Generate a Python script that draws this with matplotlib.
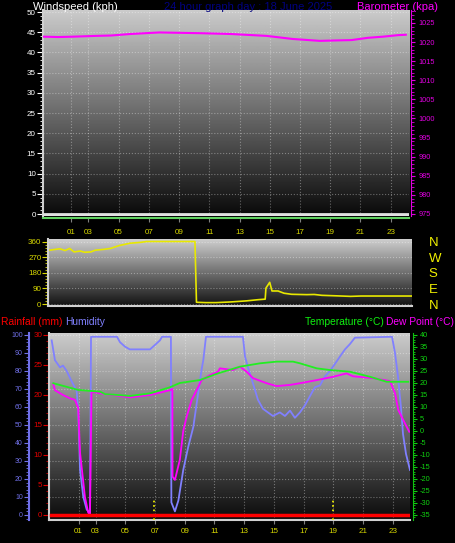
import numpy as np
import matplotlib
matplotlib.use("Agg")
import matplotlib.pyplot as plt
from matplotlib.ticker import MultipleLocator, FixedLocator

plt.rcParams["font.family"] = ["Liberation Sans", "DejaVu Sans"]
plt.rcParams["axes.unicode_minus"] = False

# ---- data (hours of the day) ----
tick_hours = [1.85, 3, 5, 7, 9, 11, 13, 15, 17, 19, 21, 23]
tick_labels = ["01", "03", "05", "07", "09", "11", "13", "15", "17", "19", "21", "23"]

wind_hours = [0.0, 24.2]
wind_speed = [0, 0]

baro_hours = [0.03, 1.0, 2.0, 3.5, 4.5, 5.8, 7.7, 9.1, 10.5, 12.4, 14.8, 16.5,
              18.3, 19.3, 20.4, 21.5, 22.5, 23.5, 24.0]
baro_kpa = [1021.4, 1021.3, 1021.4, 1021.6, 1021.7, 1022.1, 1022.5, 1022.4, 1022.3,
            1022.1, 1021.6, 1020.8, 1020.3, 1020.4, 1020.5, 1021.1, 1021.4, 1021.8, 1021.9]

dir_hours = [0.0, 0.3, 0.66, 1.0, 1.3, 1.6, 2.0, 2.3, 2.7, 3.0, 3.6, 4.0, 4.6, 5.3,
             6.0, 6.4, 9.6, 9.7, 10.3, 11.0, 12.0, 13.0, 13.8, 14.25, 14.3, 14.55,
             14.7, 15.1, 15.5, 16.0, 17.0, 17.5, 18.0, 19.0, 19.9, 20.6, 24.0]
dir_deg = [310, 314, 318, 308, 320, 300, 305, 298, 300, 310, 315, 320, 337, 350,
           355, 360, 360, 10, 8, 8, 12, 18, 25, 28, 92, 125,
           75, 75, 62, 56, 54, 55, 50, 47, 44, 46, 46]

hum_hours = [0.04, 0.26, 0.6, 0.8, 1.05, 1.4, 1.72, 1.83, 1.95, 2.17, 2.4, 2.62, 2.69,
             4.44, 4.64, 4.98, 5.3, 6.66, 7.0, 7.33, 7.47, 8.07, 8.1, 8.34, 8.57, 8.9,
             9.24, 9.58, 9.91, 10.14, 10.25, 10.43, 12.92, 13.06, 13.26, 13.6, 13.93,
             14.27, 14.6, 14.94, 15.41, 15.75, 16.09, 16.42, 16.76, 17.1, 17.43, 17.77,
             18.11, 18.44, 18.78, 19.12, 19.45, 19.79, 20.13, 20.46, 22.96, 23.16,
             23.36, 23.56, 23.7, 23.9, 24.17]
hum_pct = [97, 86, 82, 83, 80, 74, 69, 58, 25, 10, 3, 1, 99,
           99, 96, 93.5, 92, 92, 94.5, 97, 99, 99, 7, 2, 8, 25,
           38, 49, 68, 81, 86, 99, 99, 88, 82, 73, 64,
           59, 57, 55, 57, 55, 58, 54, 57, 61, 66, 71,
           72, 77, 80, 84, 88, 92, 95, 98.5, 99, 90,
           77, 60, 45, 34, 25]

temp_hours = [0.15, 1.83, 3.29, 3.63, 5.32, 6.67, 8.0, 8.67, 10.0, 11.24, 12.72,
              14.07, 15.19, 16.29, 16.76, 17.89, 18.78, 20.13, 21.47, 22.6, 24.05]
temp_c = [19.9, 17.1, 16.4, 15.4, 14.6, 15.7, 18.2, 20.0, 21.2, 24.0, 26.8,
          28.2, 28.9, 28.9, 28.2, 26.1, 25.4, 24.7, 22.6, 20.5, 20.5]

dew_hours = [0.15, 0.26, 0.8, 1.27, 1.6, 1.83, 1.95, 2.28, 2.5, 2.62, 2.72, 3.3,
             5.32, 6.67, 7.34, 8.0, 8.17, 8.18, 8.34, 8.67, 8.9, 9.13, 9.47, 9.8,
             10.14, 10.7, 11.24, 11.37, 12.25, 12.72, 13.17, 13.6, 14.52, 15.19,
             16.09, 16.76, 17.89, 19.0, 19.9, 20.33, 21.68, 22.82, 23.16, 23.38,
             23.83, 24.12]
dew_c = [19.5, 17.0, 15.0, 13.6, 13.0, 9.6, -9.0, -27.5, -34.0, -35.0, 16.4, 15.7,
         14.0, 15.0, 16.0, 17.0, 17.5, -19.0, -20.4, -12.0, 0.0, 6.0, 13.0, 17.0,
         21.2, 23.3, 24.7, 26.1, 25.4, 26.8, 24.7, 22.0, 19.9, 18.7,
         19.2, 19.9, 21.2, 22.6, 24.0, 22.8, 22.0, 20.8, 15.8, 8.75,
         3.2, -0.3]

rain_hours = [0.0, 24.1]
rain_mm = [0, 0]

sun_hours = [6.93, 18.98]

W, H = 455, 543
fig = plt.figure(figsize=(W / 100, H / 100), dpi=100, facecolor="black")


def box(l, t, r, b):
    return [l / W, 1 - b / H, (r - l) / W, (b - t) / H]


def backdrop(ax, top, bottom):
    grad = np.linspace(top, bottom, 256).reshape(-1, 1)
    ax.imshow(grad, cmap="gray", vmin=0, vmax=1, extent=[0, 1, 0, 1],
              transform=ax.transAxes, aspect="auto", zorder=0)


def frame(ax):
    for s in ["top", "right"]:
        ax.spines[s].set_visible(False)
    for s in ["left", "bottom"]:
        ax.spines[s].set_color("#d0d0d0")
        ax.spines[s].set_linewidth(1.5)


def hide_spines(ax):
    for s in ax.spines.values():
        s.set_visible(False)


yel = "#d8d800"
grid_kw = dict(color="white", alpha=0.35, linestyle=":", linewidth=0.8)

# ---------------- top: windspeed + barometer ----------------
ax1 = fig.add_axes(box(42.8, 10, 409.3, 215.5))
backdrop(ax1, 0.80, 0.04)
frame(ax1)
ax1.spines["bottom"].set_color("#60d060")
ax1.spines["bottom"].set_position(("outward", 2))
ax1.plot(wind_hours, wind_speed, color="#e0e0e0", lw=2, zorder=3)
ax1.set_xlim(-0.01, 24.23)
ax1.set_ylim(-0.37, 50.5)
ax1.yaxis.set_major_locator(MultipleLocator(5))
ax1.yaxis.set_minor_locator(MultipleLocator(1))
ax1.xaxis.set_major_locator(FixedLocator(tick_hours))
ax1.set_xticklabels(tick_labels)
ax1.tick_params(axis="y", which="both", colors="white", labelsize=5.8, pad=1)
ax1.tick_params(axis="y", which="major", length=4)
ax1.tick_params(axis="y", which="minor", length=2)
ax1.tick_params(axis="x", colors="#808080", labelcolor=yel, labelsize=5.8, length=3, pad=5)
ax1.grid(True, **grid_kw)

ax1r = ax1.twinx()
hide_spines(ax1r)
ax1r.spines["right"].set_visible(True)
ax1r.spines["right"].set_color("#e000e0")
ax1r.spines["right"].set_position(("outward", 1.5))
ax1r.plot(baro_hours, baro_kpa, color="#ff00ff", lw=1.5, zorder=3)
ax1r.set_ylim(974.58, 1028.38)
ax1r.yaxis.set_major_locator(MultipleLocator(5))
ax1r.yaxis.set_minor_locator(MultipleLocator(1))
ax1r.tick_params(axis="y", which="both", colors="#e000e0", labelsize=5.3, pad=2)
ax1r.tick_params(axis="y", which="major", length=3)
ax1r.tick_params(axis="y", which="minor", length=2)

fig.text(33 / W, 1 - 9.5 / H, "Windspeed (kph)", color="white", fontsize=8, va="baseline")
fig.text(248 / W, 1 - 9.5 / H, "24 hour graph day : 18 June 2025", color="#000080",
         fontsize=8, va="baseline", ha="center")
fig.text(438 / W, 1 - 9.5 / H, "Barometer (kpa)", color="#ff00ff", fontsize=8,
         va="baseline", ha="right")

# ---------------- middle: wind direction ----------------
ax2 = fig.add_axes(box(48.3, 239, 412, 305.5))
backdrop(ax2, 0.82, 0.08)
frame(ax2)
ax2.plot(dir_hours, dir_deg, color="#e8e800", lw=1.2, zorder=3)
ax2.set_xlim(-0.11, 23.97)
ax2.set_ylim(-8.6, 374.4)
ax2.yaxis.set_major_locator(MultipleLocator(90))
ax2.yaxis.set_minor_locator(MultipleLocator(18))
ax2.set_xticks([])
ax2.tick_params(axis="y", which="both", colors=yel, labelsize=5.8, pad=1)
ax2.tick_params(axis="y", which="major", length=4)
ax2.tick_params(axis="y", which="minor", length=2)
ax2.grid(True, axis="y", **grid_kw)

ax2r = ax2.twinx()
hide_spines(ax2r)
ax2r.set_ylim(ax2.get_ylim())
ax2r.set_yticks([0, 90, 180, 270, 360])
ax2r.set_yticklabels(["N", "E", "S", "W", "N"])
ax2r.tick_params(axis="y", length=0, labelcolor="#f0f000", labelsize=9.5, pad=12)

# ---------------- bottom: rain, humidity, temperature, dew point ----------------
ax3 = fig.add_axes(box(49.3, 333, 410, 519.5))
backdrop(ax3, 0.80, 0.04)
frame(ax3)
ax3.set_xlim(-0.12, 24.17)
ax3.set_ylim(-0.75, 30.33)
ax3.vlines(sun_hours, -0.75, 2.6, colors="#ffff00", linestyles=":", lw=1.2, zorder=3)
ax3.yaxis.set_major_locator(MultipleLocator(5))
ax3.yaxis.set_minor_locator(MultipleLocator(1))
ax3.xaxis.set_major_locator(FixedLocator(tick_hours))
ax3.set_xticklabels(tick_labels)
ax3.tick_params(axis="y", which="both", colors="#e00000", labelsize=5.8, pad=1)
ax3.tick_params(axis="y", which="major", length=4)
ax3.tick_params(axis="y", which="minor", length=2)
ax3.tick_params(axis="x", colors="#808080", labelcolor=yel, labelsize=5.8, length=3, pad=3)
ax3.grid(True, axis="x", **grid_kw)

ax3h = ax3.twinx()
hide_spines(ax3h)
ax3h.yaxis.set_ticks_position("left")
ax3h.yaxis.set_label_position("left")
ax3h.spines["left"].set_visible(True)
ax3h.spines["left"].set_position(("outward", 14.6))
ax3h.spines["left"].set_color("#7070e8")
ax3h.spines["left"].set_linewidth(1.5)
ax3h.set_ylim(-2.5, 101.1)
ax3h.yaxis.set_major_locator(MultipleLocator(10))
ax3h.yaxis.set_minor_locator(MultipleLocator(2))
ax3h.tick_params(axis="y", which="both", colors="#7070e8", labelsize=5.0, pad=1)
ax3h.tick_params(axis="y", which="major", length=3.5)
ax3h.tick_params(axis="y", which="minor", length=2)
for g in range(10, 101, 10):
    ax3h.axhline(g, zorder=1, **grid_kw)
ax3h.plot(hum_hours, hum_pct, color="#8080ff", lw=1.3, zorder=3)

ax3t = ax3.twinx()
hide_spines(ax3t)
ax3t.spines["right"].set_visible(True)
ax3t.spines["right"].set_color("#10c010")
ax3t.spines["right"].set_position(("outward", 2))
ax3t.plot(temp_hours, temp_c, color="#22ee22", lw=1.3, zorder=4)
ax3t.plot(dew_hours, dew_c, color="#ff00ff", lw=1.3, zorder=3)
ax3t.set_ylim(-36.88, 40.83)
ax3t.yaxis.set_major_locator(MultipleLocator(5))
ax3t.yaxis.set_minor_locator(MultipleLocator(1))
ax3t.tick_params(axis="y", which="both", colors="#10d010", labelsize=5.3, pad=2)
ax3t.tick_params(axis="y", which="major", length=3)
ax3t.tick_params(axis="y", which="minor", length=1.5)

# rain on top of everything, using the rain scale of ax3
ax3r = ax3.twinx()
hide_spines(ax3r)
ax3r.set_yticks([])
ax3r.set_ylim(ax3.get_ylim())
ax3r.plot(rain_hours, rain_mm, color="#ff0000", lw=2.5, zorder=4)

fig.text(1 / W, 1 - 325 / H, "Rainfall (mm)", color="#ff0000", fontsize=7.4, va="baseline")
fig.text(65 / W, 1 - 325 / H, "Humidity", color="#8080ff", fontsize=7.4, va="baseline")
fig.text(384 / W, 1 - 325 / H, "Temperature (°C)", color="#10f010", fontsize=7.4,
         va="baseline", ha="right")
fig.text(454 / W, 1 - 325 / H, "Dew Point (°C)", color="#ff00ff", fontsize=7.4,
         va="baseline", ha="right")

fig.savefig("out.png", dpi=100, facecolor="black")
